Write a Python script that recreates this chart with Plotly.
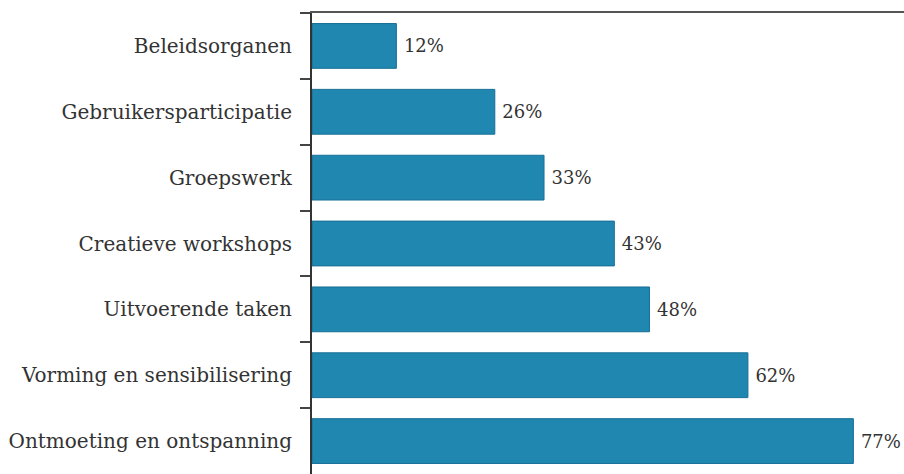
import plotly.graph_objects as go

categories = ["Beleidsorganen", "Gebruikersparticipatie", "Groepswerk",
              "Creatieve workshops", "Uitvoerende taken",
              "Vorming en sensibilisering", "Ontmoeting en ontspanning"]
values = [12, 26, 33, 43, 48, 62, 77]
labels = [f"\u2005{v}%" for v in values]

FONT = "DejaVu Serif"

fig = go.Figure(go.Bar(
    x=values, y=categories, orientation="h",
    marker=dict(color="#1f87b0", line=dict(color="#176f96", width=1)),
    width=0.68,
    text=labels, textposition="outside", cliponaxis=False,
    textfont=dict(family=FONT, size=18, color="#333333"),
    hoverinfo="skip",
))

fig.update_layout(
    width=904, height=474,
    margin=dict(l=312, r=0, t=13, b=0),
    paper_bgcolor="white", plot_bgcolor="white",
    showlegend=False,
    font=dict(family=FONT, size=20, color="#333333"),
    xaxis=dict(range=[0, 84.2], showgrid=False, zeroline=False,
               showticklabels=False, ticks="", side="top",
               showline=True, linecolor="#555555", linewidth=2, mirror=False,
               fixedrange=True),
    yaxis=dict(autorange="reversed", showgrid=False, zeroline=False,
               showline=True, linecolor="#333333", linewidth=2,
               ticks="outside", ticklen=10, tickwidth=1.5, tickcolor="#444444",
               tickson="boundaries", ticklabelstandoff=14,
               tickfont=dict(family=FONT, size=20, color="#333333"),
               automargin=False, fixedrange=True),
)

fig.write_html("out.html")
